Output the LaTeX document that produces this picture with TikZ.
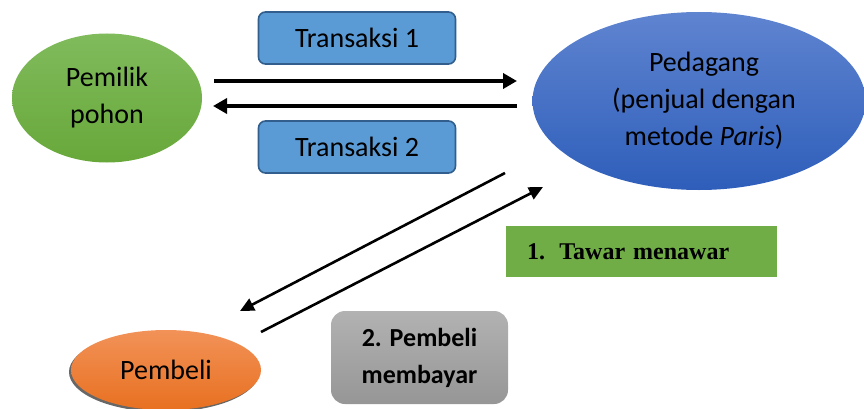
\documentclass[tikz,border=0pt]{standalone}
\usepackage{fontspec}
\setmainfont{Carlito}
\newfontfamily\timesbold{Liberation Serif}
\usetikzlibrary{shapes.geometric,arrows.meta,calc}
\definecolor{grnTop}{RGB}{128,187,92}
\definecolor{grnBot}{RGB}{104,168,58}
\definecolor{bluTop}{RGB}{95,132,208}
\definecolor{bluBot}{RGB}{46,94,186}
\definecolor{boxBlue}{RGB}{91,155,213}
\definecolor{boxEdge}{RGB}{49,94,140}
\definecolor{orgTop}{RGB}{242,146,88}
\definecolor{orgBot}{RGB}{232,112,32}
\definecolor{tawarGreen}{RGB}{112,173,71}
\definecolor{gryTop}{RGB}{178,178,178}
\definecolor{gryBot}{RGB}{150,150,150}
\begin{document}
\begin{tikzpicture}[x=1pt,y=1pt,
  txt/.style={font=\fontsize{28}{37}\selectfont, text=black, align=center},
  oval/.style={ellipse, inner sep=0pt, txt},
  trans/.style={rectangle, rounded corners=7pt, fill=boxBlue, draw=boxEdge, line width=1.6pt,
     minimum width=197pt, minimum height=52pt, inner sep=0pt, txt},
  thickarrow/.style={line width=4pt, -{Triangle[length=14pt,width=15pt]}},
  diagarrow/.style={line width=2.6pt, -{Triangle[length=14pt,width=13pt]}}
]
\useasboundingbox (0,0) rectangle (864,408);
% nodes
\node[oval, minimum width=190pt, minimum height=129pt, top color=grnTop, bottom color=grnBot] (pemilik) at (107,310) {Pemilik\\pohon};
\node[ellipse, minimum width=333pt, minimum height=178pt, top color=bluTop, bottom color=bluBot] (pedagang) at (699,307) {};
\node[txt] (pedtext) at (704,307) {Pedagang\\(penjual dengan\\metode \textit{Paris})};
\node[trans] (t1) at (357,370) {Transaksi 1};
\node[trans] (t2) at (357,261) {Transaksi 2};
\node[rectangle, fill=tawarGreen, minimum width=271pt, minimum height=51pt, inner sep=0pt,
      text width=229pt, align=left, font=\timesbold\bfseries\fontsize{24}{28}\selectfont] (tawar) at (641.5,156.5)
      {1.\hspace{0.6em}Tawar menawar};
\node[rectangle, rounded corners=14pt, top color=gryTop, bottom color=gryBot, minimum width=177pt, minimum height=93pt,
      inner sep=0pt, align=center, font=\bfseries\fontsize{26}{37}\selectfont] (bayar) at (419.5,50.5) {2. Pembeli\\membayar};
\fill[gray!60!black, opacity=0.85] (164,36) ellipse [x radius=95pt, y radius=40pt];
\node[oval, minimum width=190pt, minimum height=80pt, top color=orgTop, bottom color=orgBot] (pembeli) at (166,38) {Pembeli};
% arrow end points
\coordinate (a1s) at (214,327); \coordinate (a1e) at (517,327);
\coordinate (a2s) at (517,302); \coordinate (a2e) at (213,302);
\coordinate (d1s) at (505,235); \coordinate (d1e) at (240,97);
\coordinate (d2s) at (261,76);  \coordinate (d2e) at (543,221);
\draw[thickarrow] (a1s) -- (a1e);
\draw[thickarrow] (a2s) -- (a2e);
\draw[diagarrow] (d1s) -- (d1e);
\draw[diagarrow] (d2s) -- (d2e);
\end{tikzpicture}
\end{document}
